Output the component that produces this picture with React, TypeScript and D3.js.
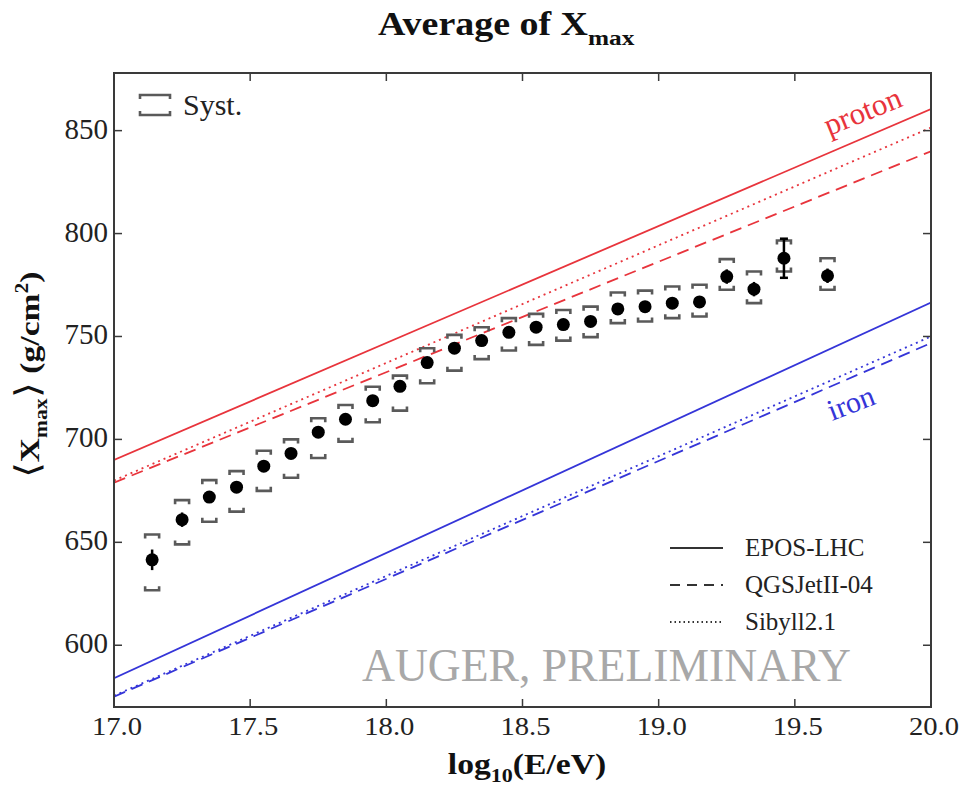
import React from "react";
import * as d3 from "d3";

const lgE = [17.14, 17.25, 17.35, 17.45, 17.55, 17.65, 17.75, 17.85, 17.95, 18.05, 18.15, 18.25, 18.35, 18.45, 18.55, 18.65, 18.75, 18.85, 18.95, 19.05, 19.15, 19.25, 19.35, 19.46, 19.62];
const meanXmax = [641.5, 661, 672, 676.8, 687, 693.2, 703.5, 709.8, 718.8, 725.8, 737.3, 744.3, 748, 752, 754.5, 755.8, 757.3, 763.4, 764.5, 766.2, 766.8, 779.1, 773, 788, 779.5];
const statErr = [5, 3.5, 2, 2, 2, 2, 2, 2, 2, 2, 2, 2, 2, 2, 2, 2, 2, 2, 2, 2, 2, 3.5, 3.5, 9.5, 3.5];
const systUp = [653.8, 670.5, 680.2, 684.6, 694.5, 700, 710.3, 716.7, 725.6, 731, 744.3, 750.8, 754.5, 758.9, 761, 762.9, 764.5, 771.4, 772.3, 774.3, 775.1, 787.6, 781.6, 796.6, 788];
const systLow = [626.7, 649, 660, 664.9, 675, 681.4, 691, 698.9, 708.3, 714, 727.3, 733.4, 739, 743.2, 745.9, 748, 749.7, 756.5, 757.3, 758.9, 759.7, 772.7, 766.2, 781.6, 772.7];

const models = ["EPOS-LHC", "QGSJetII-04", "Sibyll2.1"];
const protonStart = [690, 679, 680];
const protonEnd = [860.5, 840, 851.5];
const ironStart = [584, 575, 575.5];
const ironEnd = [766.5, 746.8, 750];
const lineEnds = [17, 20];

const xTicks = [17.0, 17.5, 18.0, 18.5, 19.0, 19.5, 20.0];
const yTicks = [600, 650, 700, 750, 800, 850];

const W = 964, H = 787;
const SERIF = "'Liberation Serif', 'Times New Roman', serif";
const RED = "#e8343c";
const BLUE = "#3535d8";
const dashFor = ["", "12,7", "2,4"];
const legendDash = ["", "10,7", "1.5,3"];

export default function App() {
  const x = d3.scaleLinear().domain([17, 20]).range([114, 931]);
  const y = d3.scaleLinear().domain([570, 878]).range([707, 73]);
  const line = d3.line<[number, number]>().x(d => x(d[0])).y(d => y(d[1]));
  const bw = 7;
  const bt = 4;

  return (
    <svg width={W} height={H} style={{ position: "absolute", left: 0, top: 0, background: "#fff" }} fontFamily={SERIF}>
      <defs>
        <clipPath id="plot">
          <rect x={x(17)} y={y(878)} width={x(20) - x(17)} height={y(570) - y(878)} />
        </clipPath>
      </defs>
      {/* title */}
      <g transform="translate(378,35) scale(1.15,1)">
        <text x={0} y={0} fontSize={33} fontWeight="bold" fill="#111">
          Average of X<tspan fontSize={22} dy={10}>max</tspan>
        </text>
      </g>

      {/* model lines */}
      <g clipPath="url(#plot)">
        {models.map((m, i) => (
          <path key={"p" + m} d={line([[lineEnds[0], protonStart[i]], [lineEnds[1], protonEnd[i]]]) || ""}
            stroke={RED} strokeWidth={1.8} fill="none" strokeDasharray={dashFor[i]} />
        ))}
        {models.map((m, i) => (
          <path key={"i" + m} d={line([[lineEnds[0], ironStart[i]], [lineEnds[1], ironEnd[i]]]) || ""}
            stroke={BLUE} strokeWidth={1.8} fill="none" strokeDasharray={dashFor[i]} />
        ))}
      </g>

      {/* systematic brackets */}
      <g stroke="#5a5a5a" strokeWidth={2.6} fill="none">
        {lgE.map((e, i) => {
          const cx = x(e);
          const yu = y(systUp[i]);
          const yl = y(systLow[i]);
          return (
            <g key={"s" + i}>
              <path d={`M${cx - bw},${yu + bt}V${yu}H${cx + bw}V${yu + bt}`} />
              <path d={`M${cx - bw},${yl - bt}V${yl}H${cx + bw}V${yl - bt}`} />
            </g>
          );
        })}
      </g>

      {/* stat errors + points */}
      <g>
        {lgE.map((e, i) => {
          const cx = x(e);
          const y1 = y(meanXmax[i] + statErr[i]);
          const y2 = y(meanXmax[i] - statErr[i]);
          return (
            <g key={"d" + i}>
              <line x1={cx} x2={cx} y1={y1} y2={y2} stroke="#000" strokeWidth={2.5} />
              {statErr[i] > 6 && (
                <g stroke="#000" strokeWidth={2.5}>
                  <line x1={cx - 4} x2={cx + 4} y1={y1} y2={y1} />
                  <line x1={cx - 4} x2={cx + 4} y1={y2} y2={y2} />
                </g>
              )}
              <circle cx={cx} cy={y(meanXmax[i])} r={6.5} fill="#000" />
            </g>
          );
        })}
      </g>

      {/* labels in plot */}
      <text x={0} y={0} fontSize={31} fill={RED} transform={`translate(829,136) rotate(-22)`}>proton</text>
      <text x={0} y={0} fontSize={30} fill={BLUE} transform={`translate(832,421) rotate(-21)`}>iron</text>
      <g transform="translate(362,681) scale(0.97,1)">
        <text x={0} y={0} fontSize={47} fill="#a8a8a8">AUGER, PRELIMINARY</text>
      </g>

      {/* syst legend */}
      <g stroke="#5a5a5a" strokeWidth={2.6} fill="none">
        <path d={`M140,99V95H170V99`} />
        <path d={`M140,111V115H170V111`} />
      </g>
      <text x={183} y={115} fontSize={30} fill="#222">Syst.</text>

      {/* model legend */}
      {models.map((m, i) => {
        const ly = 548 + i * 37;
        return (
          <g key={"l" + m}>
            <line x1={670} x2={723} y1={ly} y2={ly} stroke="#333" strokeWidth={1.8} strokeDasharray={legendDash[i]} />
            <text x={745} y={ly + 8} fontSize={25} fill="#222">{m}</text>
          </g>
        );
      })}

      {/* frame */}
      <rect x={x(17)} y={y(878)} width={x(20) - x(17)} height={y(570) - y(878)} fill="none" stroke="#3a3a3a" strokeWidth={2} />
      {/* ticks */}
      <g stroke="#3a3a3a" strokeWidth={1.5}>
        {xTicks.map(t => (
          <g key={"xt" + t}>
            <line x1={x(t)} x2={x(t)} y1={y(570)} y2={y(570) - 8} />
            <line x1={x(t)} x2={x(t)} y1={y(878)} y2={y(878) + 8} />
          </g>
        ))}
        {yTicks.map(t => (
          <g key={"yt" + t}>
            <line x1={x(17)} x2={x(17) + 8} y1={y(t)} y2={y(t)} />
            <line x1={x(20)} x2={x(20) - 8} y1={y(t)} y2={y(t)} />
          </g>
        ))}
      </g>
      <g fill="#222">
        {xTicks.map(t => (
          <g key={"xl" + t} transform={`translate(${x(t) + 3},${y(570) + 28}) scale(1.1,1)`}>
            <text x={0} y={0} fontSize={26} textAnchor="middle">{t.toFixed(1)}</text>
          </g>
        ))}
        {yTicks.map(t => (
          <text key={"yl" + t} x={x(17) - 6} y={y(t) + 8} fontSize={29} textAnchor="end">{t}</text>
        ))}
      </g>

      {/* axis labels */}
      <g transform="translate(527,774) scale(1.16,1)">
        <text x={0} y={0} fontSize={29} fontWeight="bold" textAnchor="middle" fill="#111">
          log<tspan fontSize={19} dy={8}>10</tspan><tspan dy={-8}>(E/eV)</tspan>
        </text>
      </g>
      <g transform="translate(39,375) rotate(-90) scale(1.2,1)">
        <text x={0} y={0} fontSize={28} fontWeight="bold" textAnchor="middle" fill="#111">
          <tspan fontWeight="normal" fontSize={34}>⟨</tspan>X<tspan fontSize={18} dy={8}>max</tspan><tspan dy={-8} fontWeight="normal" fontSize={34}>⟩</tspan>
          <tspan>{"  (g/cm"}</tspan><tspan fontSize={18} dy={-11}>2</tspan><tspan dy={11}>)</tspan>
        </text>
      </g>
    </svg>
  );
}
